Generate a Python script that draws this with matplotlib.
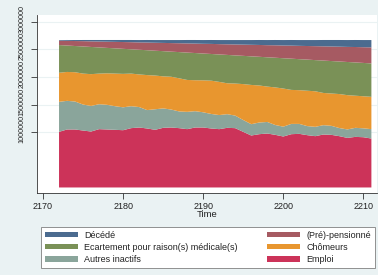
import numpy as np
import matplotlib
matplotlib.use('Agg')
import matplotlib.pyplot as plt
import matplotlib.transforms as mtrans
from matplotlib.patches import Patch

plt.rcParams['font.family'] = ['Liberation Sans', 'DejaVu Sans']

# data (thousands of persons)
years = list(range(2172, 2212))
emploi = [1006, 1049, 1049, 1030, 1012, 1055, 1049, 1043, 1036, 1073,
          1085, 1067, 1043, 1079, 1085, 1073, 1055, 1085, 1085, 1067,
          1055, 1079, 1073, 1006, 940, 964, 976, 952, 922, 964,
          970, 946, 928, 958, 952, 928, 897, 915, 909, 885]
autres = [543, 518, 506, 470, 463, 451, 446, 427, 414, 397,
          370, 333, 372, 351, 325, 302, 313, 295, 275, 263,
          255, 247, 227, 214, 205, 211, 209, 178, 178, 186,
          180, 164, 169, 169, 163, 147, 153, 164, 161, 170]
chomeurs = [526, 523, 530, 560, 575, 554, 570, 590, 605, 590,
            590, 633, 610, 580, 593, 600, 577, 560, 578, 602,
            600, 559, 580, 650, 710, 670, 640, 680, 690, 615,
            610, 640, 643, 583, 585, 615, 620, 581, 580, 585]
ecartement = [501, 478, 474, 491, 492, 474, 460, 457, 453, 440,
              446, 450, 449, 456, 454, 474, 495, 492, 485, 483,
              496, 513, 509, 511, 517, 519, 530, 537, 548, 565,
              561, 563, 564, 586, 587, 589, 600, 602, 603, 604]
pensionne = [79, 85, 90, 96, 101, 106, 112, 117, 123, 128,
             133, 139, 144, 149, 155, 160, 166, 171, 176, 182,
             187, 192, 198, 203, 209, 214, 219, 225, 230, 236,
             241, 246, 252, 257, 263, 268, 273, 279, 284, 290]
decede = [12, 15, 18, 21, 25, 28, 31, 34, 37, 40,
          43, 46, 49, 52, 55, 58, 62, 65, 68, 71,
          74, 77, 80, 83, 86, 90, 93, 96, 99, 102,
          105, 108, 111, 115, 118, 121, 124, 127, 130, 133]

labels = ['Emploi', 'Autres inactifs', 'Chômeurs',
          'Ecartement pour raison(s) médicale(s)', '(Pré)-pensionné', 'Décédé']
colors = ['#cc3359', '#8aa59b', '#e8962f', '#7a9157', '#a65a62', '#4b6b8f']
yticks = [1000000, 1500000, 2000000, 2500000, 3000000]
xticks = [2170, 2180, 2190, 2200, 2210]

series = np.array([emploi, autres, chomeurs, ecartement, pensionne, decede]) * 1000.

fig = plt.figure(figsize=(3.78, 2.75), dpi=100, facecolor='#eaf2f3')
ax = fig.add_axes([37 / 378, 1 - 193 / 275, 340 / 378, 178 / 275])
ax.set_facecolor('white')
ax.stackplot(years, series, colors=colors, linewidth=0)

ax.set_xlim(2169.25, 2211.7)
ax.set_ylim(-100000, 3120000)
ax.set_xticks(xticks)
ax.set_yticks(yticks)
ax.set_yticklabels([str(v) for v in yticks], rotation=90, va='center')
ax.tick_params(axis='both', direction='out', length=4, width=0.6,
               labelsize=6.5, color='#333333', labelcolor='#222222', pad=2.5)
ax.tick_params(axis='y', labelsize=5.2, pad=4.3)
# the long vertical labels overlap each other, as in the original
shift = mtrans.ScaledTranslation(0, 3 / 100, fig.dpi_scale_trans)
for lab in ax.get_yticklabels():
    lab.set_transform(lab.get_transform() + shift)
ax.grid(axis='y', color='#eaf2f3', linewidth=0.8)
ax.set_axisbelow(True)
for s in ['top', 'right']:
    ax.spines[s].set_visible(False)
for s in ['left', 'bottom']:
    ax.spines[s].set_linewidth(0.6)
    ax.spines[s].set_color('#333333')
ax.set_xlabel('Time', fontsize=6.8, labelpad=-0.5, color='#222222')

# legend, laid out in Stata's row order
order = [5, 3, 1, 4, 2, 0]
handles = [Patch(facecolor=colors[i], edgecolor='none') for i in order]
leg = fig.legend(handles, [labels[i] for i in order], ncol=2,
                 loc='lower left', mode='expand',
                 bbox_to_anchor=(41 / 378, 1 - 268 / 275, 334 / 378, 44 / 275),
                 fontsize=6.5, frameon=True, fancybox=False, framealpha=1,
                 handlelength=3.7, handleheight=0.6, handletextpad=0.65,
                 labelspacing=0.35, borderpad=0.45, borderaxespad=0)
leg.get_frame().set_edgecolor('#808080')
leg.get_frame().set_linewidth(0.6)
for t in leg.get_texts():
    t.set_color('#222222')

fig.savefig('out.png', dpi=100, facecolor=fig.get_facecolor())
